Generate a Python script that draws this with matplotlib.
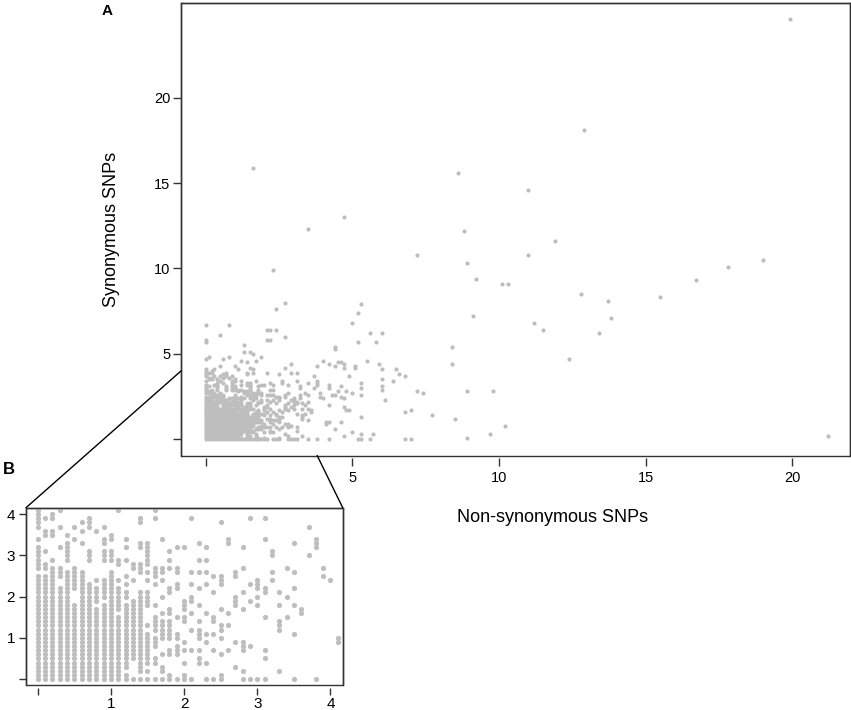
import matplotlib
matplotlib.use('Agg')
import matplotlib.pyplot as plt
from matplotlib.patches import ConnectionPatch

# ---------------- data ----------------
# Dense region (0..4.1 x 0..4.1), values on a 0.1 grid.
# key: non-synonymous value in tenths; value: runs (lo, hi) of synonymous values in tenths
inset_columns = {
    0: [(0, 25), (27, 32), (34, 34), (37, 41)],
    1: [(0, 25), (27, 28), (31, 31), (35, 36), (39, 39)],
    2: [(0, 27), (29, 29), (35, 36), (39, 40)],
    3: [(0, 22), (25, 27), (32, 32), (37, 37), (41, 41)],
    4: [(0, 26), (29, 33), (35, 35)],
    5: [(0, 18), (22, 27), (34, 34), (37, 37)],
    6: [(0, 26), (33, 33), (36, 36), (38, 38)],
    7: [(0, 23), (29, 31), (37, 39)],
    8: [(0, 17), (19, 22), (24, 24), (36, 36)],
    9: [(0, 18), (20, 24), (29, 31), (33, 34), (37, 37)],
    10: [(0, 26), (29, 31), (34, 35)],
    11: [(0, 15), (17, 22), (24, 24), (28, 29), (41, 41)],
    12: [(0, 1), (3, 18), (20, 21), (23, 23), (25, 25), (29, 29), (32, 32), (34, 34)],
    13: [(0, 0), (5, 19), (24, 24), (27, 28)],
    14: [(0, 0), (2, 21), (26, 28), (32, 33), (38, 39)],
    15: [(0, 0), (2, 2), (4, 11), (13, 13), (18, 21), (24, 24), (26, 26), (28, 33)],
    16: [(0, 0), (4, 5), (8, 10), (12, 15), (18, 18), (23, 23), (25, 27), (39, 39), (41, 41)],
    17: [(0, 0), (2, 3), (6, 6), (10, 14), (16, 16), (20, 20), (24, 24), (26, 27), (34, 34)],
    18: [(0, 1), (6, 7), (10, 14), (16, 17), (21, 22), (27, 27), (29, 29), (31, 31)],
    19: [(0, 0), (6, 8), (10, 11), (15, 15), (22, 23), (26, 27), (32, 32)],
    20: [(0, 1), (4, 4), (7, 7), (9, 9), (14, 15), (17, 19), (32, 32)],
    21: [(0, 0), (7, 7), (12, 12), (16, 16), (19, 20), (23, 23), (26, 26), (39, 39)],
    22: [(4, 5), (7, 7), (10, 12), (14, 14), (18, 18), (22, 22), (26, 26), (29, 29), (33, 33)],
    23: [(0, 0), (4, 4), (9, 9), (11, 11), (16, 16), (23, 23), (26, 26), (29, 29), (32, 32)],
    24: [(0, 0), (7, 7), (11, 11), (14, 15), (21, 21), (25, 25)],
    25: [(0, 1), (6, 6), (10, 10), (12, 13), (17, 17), (23, 25), (38, 38)],
    26: [(7, 7), (13, 13), (16, 16), (33, 34)],
    27: [(3, 3), (9, 9), (18, 20), (25, 26)],
    28: [(0, 0), (2, 2), (7, 9), (17, 17), (21, 21), (27, 27), (32, 32)],
    29: [(0, 0), (8, 8), (19, 19), (23, 23), (39, 39)],
    30: [(0, 0), (18, 18), (20, 20), (22, 24)],
    31: [(0, 0), (5, 5), (7, 7), (15, 15), (21, 22), (34, 34), (39, 39)],
    32: [(24, 24), (26, 26), (30, 31)],
    33: [(2, 2), (12, 14), (18, 18), (21, 21)],
    34: [(15, 15), (20, 20), (27, 27)],
    35: [(0, 0), (11, 11), (18, 18), (22, 22), (26, 26), (33, 33)],
    36: [(16, 17)],
    37: [(30, 30), (37, 37)],
    38: [(0, 0), (32, 34)],
    39: [(25, 25), (27, 27)],
    40: [(24, 24)],
    41: [(9, 10)],
}

# Points outside the dense region
extra_nonsyn = [1.6, 3.5, 4.7, 2.3, 7.2, 8.6, 8.8, 8.9, 19.9, 12.9, 11.0, 11.9, 11.0, 9.2, 10.1, 10.3,
                12.8, 13.7, 13.8, 13.4, 9.1, 11.2, 11.5, 12.4, 15.5, 16.7, 17.8, 19.0, 8.9, 9.8, 10.2,
                9.7, 8.9, 21.2,
                5.3, 5.2, 5.0, 5.6, 6.0, 5.2, 5.8, 4.4, 4.4, 8.4, 8.4, 4.0, 3.8, 4.2, 4.4, 4.5, 4.6,
                4.7, 4.7, 5.1, 5.1, 5.5, 5.9, 6.0, 6.5, 6.6, 6.8, 4.9, 6.4, 6.0, 6.0, 6.0, 5.3, 5.3,
                5.3, 5.0, 6.1, 7.2, 7.4, 6.8, 7.0, 7.7, 8.5, 5.3, 5.0, 5.3, 5.7, 4.7, 5.2, 5.3, 5.6,
                6.8, 7.0,
                4.2, 4.2, 4.3, 4.4, 4.5, 4.6, 4.6, 4.7, 4.8, 4.7, 4.8, 4.9, 4.2, 4.6, 4.4, 4.2, 4.2,
                2.7, 2.4, 0.0, 0.8, 0.5, 0.0, 0.0, 2.1, 2.2, 2.4, 2.1, 2.2, 2.7, 1.3, 1.3, 1.5, 1.6,
                0.1, 0.0, 0.6, 0.8, 1.2, 1.4, 1.7, 1.9, 0.5, 1.0, 1.5, 2.7, 2.9]
extra_syn = [15.9, 12.3, 13.0, 9.9, 10.8, 15.6, 12.2, 10.3, 24.6, 18.1, 14.6, 11.6, 10.8, 9.4, 9.1, 9.1,
             8.5, 8.1, 7.1, 6.2, 7.2, 6.8, 6.4, 4.7, 8.3, 9.3, 10.1, 10.5, 2.8, 2.8, 0.8,
             0.3, 0.1, 0.2,
             7.9, 7.4, 6.8, 6.2, 6.2, 5.7, 5.7, 5.4, 5.3, 5.4, 4.4, 4.6, 4.3, 4.4, 4.3, 4.5, 4.5,
             4.4, 4.2, 4.3, 4.2, 4.6, 4.4, 4.1, 4.1, 3.8, 3.7, 3.7, 3.4, 3.5, 3.1, 2.9, 3.3, 3.0,
             2.6, 2.7, 2.3, 2.8, 2.7, 1.6, 1.7, 1.4, 1.2, 1.3, 0.4, 0.3, 0.3, 0.2, 0.0, 0.0, 0.0,
             0.0, 0.0,
             3.2, 3.0, 2.6, 2.6, 2.8, 3.1, 2.5, 2.4, 2.8, 1.9, 1.7, 1.7, 2.0, 1.0, 0.6, 1.0, 0.0,
             8.0, 7.6, 6.7, 6.7, 6.1, 5.8, 5.7, 6.4, 6.4, 6.4, 5.8, 5.8, 6.0, 5.5, 5.1, 5.1, 5.0,
             4.8, 4.7, 4.7, 4.8, 4.6, 4.5, 4.6, 4.8, 4.3, 4.3, 4.2, 4.2, 4.4]

main_ticks = [0, 5, 10, 15, 20]
main_tick_labels = ['', '5', '10', '15', '20']
inset_ticks = [0, 1, 2, 3, 4]
inset_tick_labels = ['', '1', '2', '3', '4']

xlabel = 'Non-synonymous SNPs'
ylabel = 'Synonymous SNPs'

# ---------------- build points ----------------
nonsyn, syn = [], []
for cx, runs in inset_columns.items():
    for lo, hi in runs:
        for cy in range(lo, hi + 1):
            nonsyn.append(cx / 10.0)
            syn.append(cy / 10.0)
nonsyn += extra_nonsyn
syn += extra_syn

plt.rcParams['font.family'] = ['Liberation Sans', 'DejaVu Sans']
W, H = 851, 710
fig = plt.figure(figsize=(W / 100, H / 100), dpi=100)

PT_COLOR = '#bebebe'
FRAME = '#333333'


def frame_axes(ax, gap):
    for name in ('left', 'top', 'right'):
        ax.spines[name].set_color(FRAME)
        ax.spines[name].set_linewidth(1.0)
    ax.spines['bottom'].set_position(('outward', gap))
    ax.spines['bottom'].set_color('none')
    ax.patch.set_edgecolor(FRAME)
    ax.patch.set_linewidth(1.0)


# main axes (A)
l, r, t, b = 181, 850, 2.5, 455.5
ax = fig.add_axes([l / W, 1 - b / H, (r - l) / W, (b - t) / H])
ax.scatter(nonsyn, syn, s=9, c=PT_COLOR, linewidths=0)
ax.set_xlim(-0.84, 21.96)
ax.set_ylim(-0.95, 25.57)
frame_axes(ax, 1.5)
ax.set_xticks(main_ticks)
ax.set_xticklabels(main_tick_labels)
ax.set_yticks(main_ticks)
ax.set_yticklabels(main_tick_labels)
ax.tick_params(axis='both', direction='out', length=5.5, width=1.0, color=FRAME, labelsize=10.5)
ax.tick_params(axis='x', pad=4)
ax.tick_params(axis='y', pad=2)

# inset axes (B)
il, ir, it, ib = 26, 342.7, 507.7, 685
ax2 = fig.add_axes([il / W, 1 - ib / H, (ir - il) / W, (ib - it) / H])
ax2.scatter(nonsyn, syn, s=14, c=PT_COLOR, linewidths=0)
ax2.set_xlim(-0.16, 4.167)
ax2.set_ylim(-0.146, 4.158)
frame_axes(ax2, 2)
ax2.set_xticks(inset_ticks)
ax2.set_xticklabels(inset_tick_labels)
ax2.set_yticks(inset_ticks)
ax2.set_yticklabels(inset_tick_labels)
ax2.tick_params(axis='both', direction='out', length=5, width=1.0, color=FRAME, labelsize=11)
ax2.tick_params(axis='x', pad=2)
ax2.tick_params(axis='y', pad=3)

# zoom connector lines
con1 = ConnectionPatch(xyA=(0, 1), coordsA=ax2.transAxes,
                       xyB=(0, 4.0), coordsB=ax.get_yaxis_transform(),
                       color='black', lw=1.0)
con2 = ConnectionPatch(xyA=(1, 1), coordsA=ax2.transAxes,
                       xyB=(3.8, 0), coordsB=ax.get_xaxis_transform(),
                       color='black', lw=1.0)
fig.add_artist(con1)
fig.add_artist(con2)

# labels
fig.text(111 / W, 1 - 229 / H, ylabel, rotation=90, ha='center', va='center', fontsize=13)
fig.text(553 / W, 1 - 517 / H, xlabel, ha='center', va='center', fontsize=13)
fig.text(107 / W, 1 - 11 / H, 'A', ha='center', va='center', fontsize=11, fontweight='bold')
fig.text(9 / W, 1 - 470 / H, 'B', ha='center', va='center', fontsize=12, fontweight='bold')

fig.savefig('out.png', dpi=100)
